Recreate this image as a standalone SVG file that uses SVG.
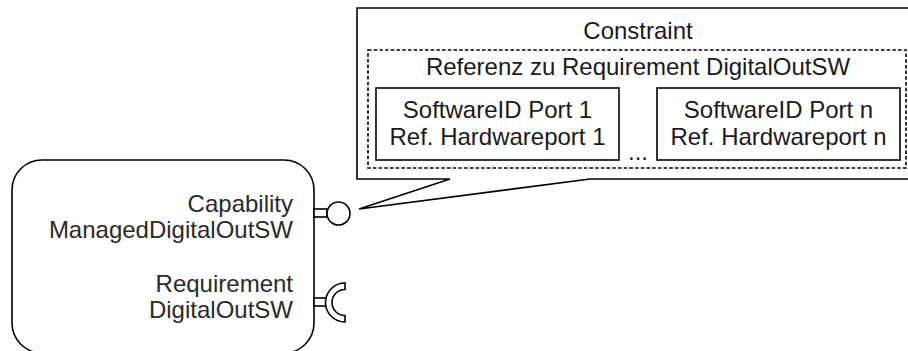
<svg xmlns="http://www.w3.org/2000/svg" width="908" height="351" viewBox="0 0 908 351">
<style>
.ln{fill:none;stroke:#000;stroke-width:1.6}
.wf{fill:#fff;stroke:#000;stroke-width:1.6}
.dot{fill:none;stroke:#000;stroke-width:1.6;stroke-dasharray:3.5 2.2}
text{font-family:"Liberation Sans",Arial,sans-serif;font-size:24px;fill:#1a1a1a}
.c{text-anchor:middle}
.r{text-anchor:end;fill:#2a2a2a}
</style>
<rect width="908" height="351" fill="#fff"/>
<g id="component">
<rect class="wf" x="12" y="160" width="302" height="193" rx="30" ry="30"/>
<text class="r" x="293" y="212">Capability</text>
<text class="r" x="293" y="238">ManagedDigitalOutSW</text>
<text class="r" x="293" y="292">Requirement</text>
<text class="r" x="293" y="318">DigitalOutSW</text>
</g>
<g id="capability-port">
<rect class="wf" x="314" y="209" width="13" height="8"/>
<circle class="wf" cx="338.5" cy="213.5" r="11.5"/>
</g>
<g id="requirement-port">
<rect class="wf" x="314" y="298" width="13" height="8"/>
<path class="wf" d="M345 283 A19.5 19.5 0 0 0 345 322 L345 315.5 A12.5 12.5 0 0 1 345 289.5 Z"/>
</g>
<g id="constraint">
<path class="wf" d="M357 8 H914 V179 H590 L359 209 L450 179 H357 Z"/>
<text class="c" x="638" y="39">Constraint</text>
</g>
<g id="reference">
<rect class="dot" x="368" y="50" width="538" height="118"/>
<text class="c" x="638" y="75">Referenz zu Requirement DigitalOutSW</text>
</g>
<g id="port1">
<rect class="ln" x="376" y="88" width="243" height="72"/>
<text class="c" x="497.5" y="118">SoftwareID Port 1</text>
<text class="c" x="497.5" y="145">Ref. Hardwareport 1</text>
</g>
<g id="ellipsis">
<text class="c" x="638" y="160">...</text>
</g>
<g id="portn">
<rect class="ln" x="657" y="88" width="243" height="72"/>
<text class="c" x="778.5" y="118">SoftwareID Port n</text>
<text class="c" x="778.5" y="145">Ref. Hardwareport n</text>
</g>
<g id="connectors"></g>
</svg>
